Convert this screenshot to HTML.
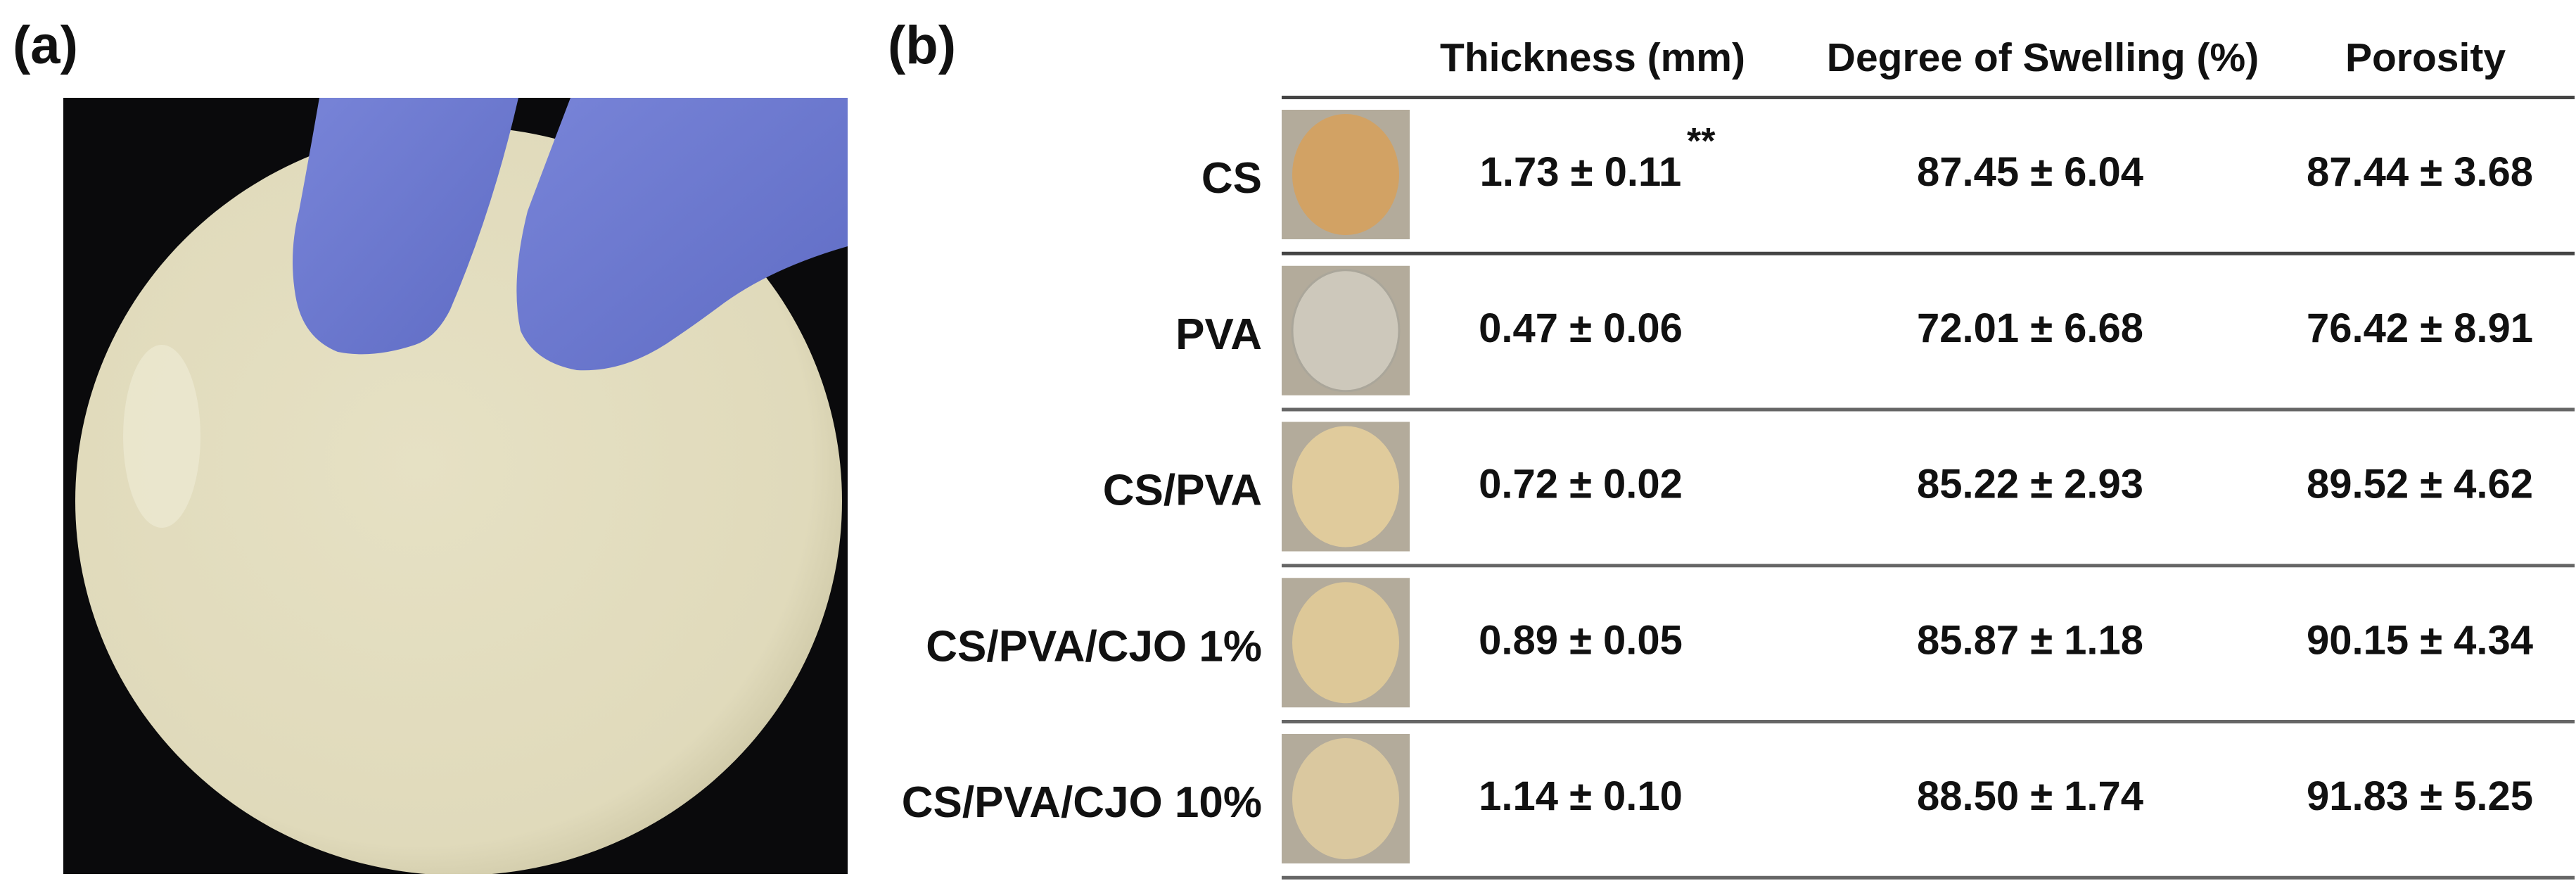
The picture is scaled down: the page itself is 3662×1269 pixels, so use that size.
<!DOCTYPE html>
<html><head><meta charset="utf-8">
<style>
html,body{margin:0;padding:0;background:#fff;}
svg{display:block;font-family:"Liberation Sans",Arial,sans-serif;font-weight:bold;}
</style></head>
<body>
<svg id="fig" width="3662" height="1269" viewBox="0 0 3662 1269" xmlns="http://www.w3.org/2000/svg">
  <text x="18" y="90" font-size="76" fill="#111">(a)</text>
  <g>
    <defs>
      <clipPath id="pc"><rect x="90" y="139" width="1115" height="1103"/></clipPath>
      <radialGradient id="dg" cx="0.45" cy="0.45" r="0.6">
        <stop offset="0" stop-color="#e6e1c4"/><stop offset="0.85" stop-color="#e0dabb"/><stop offset="1" stop-color="#cbc5a3"/>
      </radialGradient>
      <linearGradient id="gg" x1="0" y1="0" x2="1" y2="1">
        <stop offset="0" stop-color="#7884d8"/><stop offset="1" stop-color="#5f6cc4"/>
      </linearGradient>
    </defs>
    <g clip-path="url(#pc)">
      <rect x="90" y="139" width="1115" height="1103" fill="#0a0a0c"/>
      <ellipse cx="652" cy="712" rx="545" ry="532" fill="url(#dg)"/>
      <ellipse cx="230" cy="620" rx="55" ry="130" fill="#f2efdc" opacity="0.5"/>
      <path d="M454 139 L737 139 Q700 300 640 440 Q620 480 590 490 Q530 510 480 500 Q430 480 420 420 Q410 360 425 300 Q440 220 454 139 Z" fill="url(#gg)"/>
      <path d="M811 139 L1205 139 L1205 350 Q1100 380 1030 430 Q990 460 960 480 Q890 530 820 526 Q760 515 740 470 Q725 400 750 300 Q780 220 811 139 Z" fill="url(#gg)"/>
    </g>
  </g>
  <text x="1262" y="90" font-size="76" fill="#111">(b)</text>
  <g id="table"></g>
</svg>
<script>
const samples = ["CS", "PVA", "CS/PVA", "CS/PVA/CJO 1%", "CS/PVA/CJO 10%"];
const thickness = ["1.73 ± 0.11", "0.47 ± 0.06", "0.72 ± 0.02", "0.89 ± 0.05", "1.14 ± 0.10"];
const swelling = ["87.45 ± 6.04", "72.01 ± 6.68", "85.22 ± 2.93", "85.87 ± 1.18", "88.50 ± 1.74"];
const porosity = ["87.44 ± 3.68", "76.42 ± 8.91", "89.52 ± 4.62", "90.15 ± 4.34", "91.83 ± 5.25"];
const headers = ["Thickness (mm)", "Degree of Swelling (%)", "Porosity"];
const discColors = ["#d2a264", "#cdc8bb", "#e0cb9c", "#ddc898", "#dac89f"];

const NS = "http://www.w3.org/2000/svg";
const g = document.getElementById("table");
function mk(tag, attrs, parent) {
  const e = document.createElementNS(NS, tag);
  for (const k in attrs) e.setAttribute(k, attrs[k]);
  (parent || g).appendChild(e);
  return e;
}
const headX = [2264, 2904, 3448];
const valX = [2247, 2886, 3440];
const lineY = i => 138 + i * 221.75;

headers.forEach((h, j) => {
  const t = mk("text", {x: headX[j], y: 101, "font-size": 57, "text-anchor": "middle", fill: "#111"});
  
  
  t.textContent = h;
});
for (let i = 0; i <= samples.length; i++) {
  const l = mk("rect", {x: 1822, y: lineY(i) - 2, width: 1838, height: 5, fill: i < 2 ? "#444" : "#666"});
  
  
}
samples.forEach((s, i) => {
  const y0 = lineY(i);
  const lab = mk("text", {x: 1794, y: y0 + 136, "font-size": 62, "text-anchor": "end", fill: "#111"});
  
  
  lab.textContent = s;
  const sw = mk("rect", {x: 1822, y: y0 + 18, width: 182, height: 184, fill: "#b3ab9b"});
  
  
  const d = mk("ellipse", {cx: 1913, cy: y0 + 110, rx: 76, ry: 86, fill: discColors[i], stroke: i === 1 ? "#aaa69a" : "none", "stroke-width": 3});
  
  
  [thickness[i], swelling[i], porosity[i]].forEach((v, j) => {
    const t = mk("text", {x: valX[j], y: y0 + 126, "font-size": 58, "text-anchor": "middle", fill: "#111"});
    
    
    t.textContent = v;
  });
});
const st = mk("text", {x: 2398, y: 218, "font-size": 52, fill: "#111"});


st.textContent = "**";
</script>
</body></html>
